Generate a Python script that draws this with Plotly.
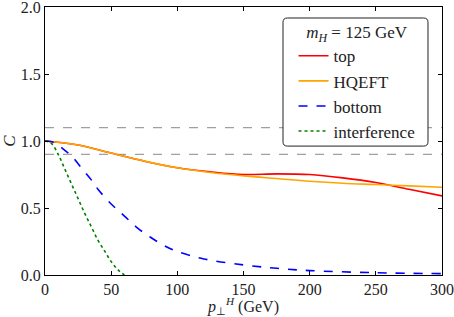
import plotly.graph_objects as go

# Data
pt_top = [0, 25, 50, 75, 100, 125, 150, 175, 200, 225, 250, 275, 300]
c_top = [1.0, 0.97, 0.91, 0.85, 0.80, 0.77, 0.75, 0.755, 0.75, 0.725, 0.69, 0.64, 0.59]

pt_hqeft = [0, 25, 50, 75, 100, 125, 150, 175, 200, 225, 250, 275, 300]
c_hqeft = [1.0, 0.97, 0.91, 0.85, 0.80, 0.765, 0.74, 0.72, 0.70, 0.685, 0.675, 0.665, 0.655]

pt_bottom = [0, 5, 10, 15, 20, 25, 30, 35, 40, 50, 60, 70, 80, 90, 100, 120, 150, 175, 200, 250, 300]
c_bottom = [1.0, 0.995, 0.97, 0.93, 0.89, 0.83, 0.77, 0.71, 0.64, 0.53, 0.44, 0.35, 0.28, 0.22, 0.175, 0.12, 0.075, 0.05, 0.033, 0.017, 0.01]

pt_interf = [0, 5, 10, 15, 20, 25, 30, 35, 40, 45, 50, 55, 60]
c_interf = [1.0, 0.98, 0.90, 0.79, 0.68, 0.57, 0.46, 0.36, 0.26, 0.18, 0.10, 0.04, 0.0]

band_levels = [1.1, 0.9]

x_ticks = [0, 50, 100, 150, 200, 250, 300]
y_ticks = [0.0, 0.5, 1.0, 1.5, 2.0]

FONT = "Liberation Serif, Times New Roman, serif"

fig = go.Figure()
fig.add_trace(go.Scatter(x=pt_top, y=c_top, mode="lines", name="top",
                         line=dict(color="red", width=1.6, shape="spline")))
fig.add_trace(go.Scatter(x=pt_hqeft, y=c_hqeft, mode="lines", name="HQEFT",
                         line=dict(color="orange", width=1.6, shape="spline")))
fig.add_trace(go.Scatter(x=pt_bottom, y=c_bottom, mode="lines", name="bottom",
                         line=dict(color="blue", width=1.6, dash="dash", shape="spline")))
fig.add_trace(go.Scatter(x=pt_interf, y=c_interf, mode="lines", name="interference",
                         line=dict(color="green", width=1.6, dash="dot", shape="spline")))

for lv in band_levels:
    fig.add_hline(y=lv, line=dict(color="#a0a0a0", width=1.2, dash="dash"), layer="below")

# Rounded legend frame (paper coordinates)
x0, x1, y0, y1 = 0.5995, 0.9647, 0.481, 0.959
rx, ry = 0.011, 0.016
path = (f"M {x0+rx},{y0} L {x1-rx},{y0} Q {x1},{y0} {x1},{y0+ry} "
        f"L {x1},{y1-ry} Q {x1},{y1} {x1-rx},{y1} L {x0+rx},{y1} "
        f"Q {x0},{y1} {x0},{y1-ry} L {x0},{y0+ry} Q {x0},{y0} {x0+rx},{y0} Z")
fig.add_shape(type="path", path=path, xref="paper", yref="paper",
              line=dict(color="#222", width=1), fillcolor="white", layer="above")

axis_common = dict(showline=True, linecolor="black", linewidth=1.2, mirror="ticks",
                   ticks="inside", ticklen=4, tickcolor="black", showgrid=False,
                   zeroline=False, automargin=False, ticklabeloverflow="allow",
                   tickfont=dict(family=FONT, size=16, color="#222"))

fig.update_xaxes(range=[0, 300], tickvals=x_ticks, ticktext=[str(v) for v in x_ticks],
                 title=dict(text="<i>p</i><sub>⊥</sub><sup><i>H</i></sup> (GeV)",
                            font=dict(family=FONT, size=16, color="#222"), standoff=0),
                 **axis_common)
fig.update_yaxes(range=[0, 2.0], tickvals=y_ticks, ticktext=[f"{v:.1f}" for v in y_ticks],
                 title=dict(text="<i>C</i>", font=dict(family=FONT, size=17, color="#222"), standoff=4),
                 **axis_common)

fig.update_layout(
    width=454, height=317,
    margin=dict(l=45, r=12, t=7, b=42, autoexpand=False),
    plot_bgcolor="white", paper_bgcolor="white",
    font=dict(family=FONT, size=16, color="#222"),
    legend=dict(x=0.626, y=0.966, xanchor="left", yanchor="top",
                borderwidth=0, bgcolor="rgba(0,0,0,0)",
                title=dict(text="<i>m</i><sub><i>H</i></sub> = 125 GeV", side="top center",
                           font=dict(family=FONT, size=17)),
                font=dict(family=FONT, size=17), itemwidth=30, tracegroupgap=0),
)

fig.write_html("out.html", config={"displayModeBar": False},
               post_script="document.body.style.margin='0';")
